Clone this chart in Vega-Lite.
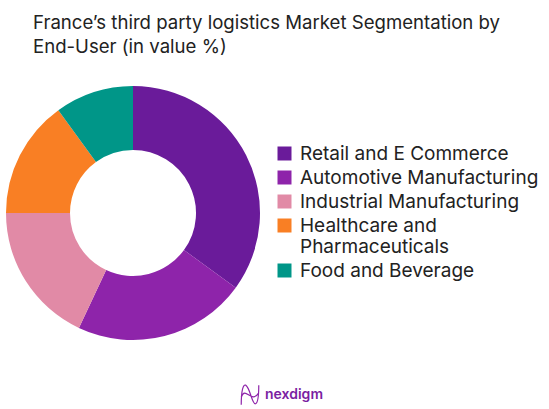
{
  "$schema": "https://vega.github.io/schema/vega-lite/v6.json",
  "width": 266,
  "height": 266,
  "autosize": {"type": "none"},
  "padding": {"left": 0, "top": 80, "right": 283, "bottom": 63},
  "background": "white",
  "title": {
    "text": ["France’s third party logistics Market Segmentation by", "End-User (in value %)"],
    "anchor": "start",
    "frame": "group",
    "dx": 33,
    "offset": 23,
    "font": "Inter",
    "fontSize": 18.6,
    "fontWeight": "normal",
    "lineHeight": 24,
    "color": "#222222"
  },
  "layer": [
    {
      "data": {
        "values": [
          {"segment": "Retail and E Commerce", "share": 35, "rank": 1},
          {"segment": "Automotive Manufacturing", "share": 22, "rank": 2},
          {"segment": "Industrial Manufacturing", "share": 18, "rank": 3},
          {"segment": "Healthcare and Pharmaceuticals", "share": 15, "rank": 4},
          {"segment": "Food and Beverage", "share": 10, "rank": 5}
        ]
      },
      "mark": {"type": "arc", "outerRadius": 127, "innerRadius": 63},
      "encoding": {
        "theta": {"field": "share", "type": "quantitative", "stack": true},
        "order": {"field": "rank", "type": "ordinal"},
        "color": {
          "field": "segment",
          "type": "nominal",
          "scale": {
            "domain": ["Retail and E Commerce", "Automotive Manufacturing", "Industrial Manufacturing", "Healthcare and Pharmaceuticals", "Food and Beverage"],
            "range": ["#6A1B9A", "#8E24AA", "#E18AA6", "#F97F24", "#009688"]
          },
          "legend": {
            "title": null,
            "orient": "none",
            "legendX": 275,
            "legendY": 64,
            "symbolType": "square",
            "symbolSize": 196,
            "symbolStrokeWidth": 0,
            "labelFont": "Inter",
            "labelFontSize": 19,
            "labelColor": "#222222",
            "labelOffset": 6,
            "labelLimit": 270,
            "rowPadding": 4,
            "labelExpr": "datum.label == 'Healthcare and Pharmaceuticals' ? ['Healthcare and', 'Pharmaceuticals'] : datum.label",
            "encoding": {"labels": {"update": {"lineHeight": {"value": 23}}}}
          }
        }
      }
    },
    {
      "data": {"values": [{"brand": "nexdigm"}]},
      "mark": {"type": "point", "opacity": 0, "size": 0},
      "encoding": {
        "shape": {
          "field": "brand",
          "type": "nominal",
          "scale": {
            "domain": ["nexdigm"],
            "range": ["M -0.8 0.9 C -0.8 -0.5 -0.6 -1 -0.4 -0.9 C 0 -0.7 0.2 0.9 0.5 0.8 C 0.8 0.7 0.8 -0.4 0.8 -0.9 M -0.8 0.2 C -0.4 -0.9 0.1 0.9 0.8 -0.2"]
          },
          "legend": {
            "title": null,
            "orient": "none",
            "legendX": 238,
            "legendY": 303,
            "symbolSize": 480,
            "symbolFillColor": "transparent",
            "symbolStrokeColor": "#8E24AA",
            "symbolStrokeWidth": 1.2,
            "symbolOpacity": 1,
            "labelFont": "Inter",
            "labelFontSize": 14,
            "labelFontWeight": 600,
            "labelColor": "#7B1FA2",
            "labelOffset": 3
          }
        }
      }
    }
  ],
  "config": {"view": {"stroke": null}}
}
